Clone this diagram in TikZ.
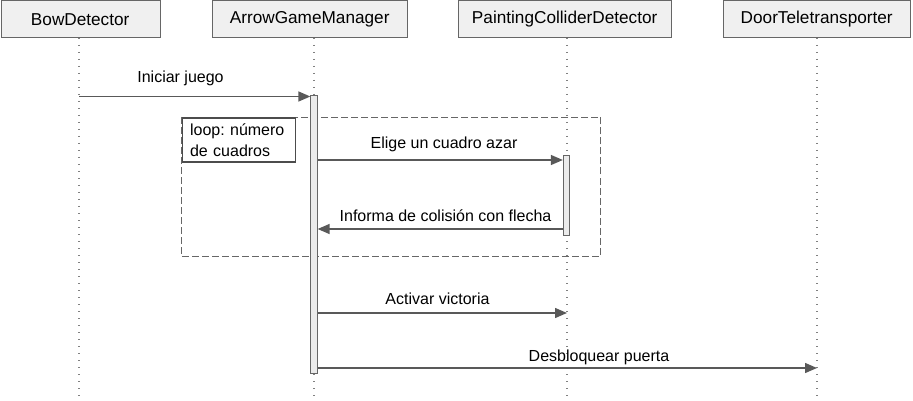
\documentclass[tikz,border=0pt]{standalone}
\usepackage{fontspec}
\setmainfont{Liberation Sans}
\usetikzlibrary{arrows.meta}
\frenchspacing
\tikzset{
	actor/.style={draw=black!60, fill=black!6, minimum height=37pt, inner sep=0pt, anchor=north west, font=\fontsize{17.2}{19}\selectfont},
	lifeline/.style={draw=black!50, line width=1.3pt, dash pattern=on 1.3pt off 5.7pt},
	bar/.style={draw=black!60, fill=black!8, line width=0.8pt, minimum width=6.5pt, inner sep=0pt, anchor=north},
	msg/.style={draw=black!65, line width=1.4pt, -{Triangle[length=12pt,width=10pt]}},
	lbl/.style={font=\fontsize{16}{19}\selectfont, inner sep=0pt, anchor=base},
	frame/.style={draw=black!60, line width=0.7pt, dash pattern=on 7pt off 3pt}
}

\begin{document}
\begin{tikzpicture}[x=1pt, y=-1pt]
		%%%%% START %%%%%
		\useasboundingbox (0,0) rectangle (913,401);
		
		\node[actor, minimum width=159pt] (bow) at (0.5,0.5) {BowDetector};
		\node[actor, minimum width=195pt] (agm) at (212,0.5) {ArrowGameManager};
		\node[actor, minimum width=213pt] (pcd) at (458,0.5) {PaintingColliderDetector};
		\node[actor, minimum width=187pt] (door) at (723,0.5) {DoorTeletransporter};
		
		\coordinate (bowtop) at (79,38);   \coordinate (bowend) at (79,401);
		\coordinate (agmtop) at (314,38);  \coordinate (agmend) at (314,401);
		\coordinate (pcdtop) at (567,38);  \coordinate (pcdend) at (567,401);
		\coordinate (doortop) at (817,38); \coordinate (doorend) at (817,401);
		\draw[lifeline] (bowtop) -- (bowend);
		\draw[lifeline] (agmtop) -- (agmend);
		\draw[lifeline] (pcdtop) -- (pcdend);
		\draw[lifeline] (doortop) -- (doorend);
		
		% loop frame
		\draw[frame] (181,117) rectangle (600.5,256);
		\node[draw=black!70, fill=white, line width=1.2pt, anchor=north west, minimum height=44pt,
			inner xsep=8pt, inner ysep=0pt, text width=97pt, align=left, font=\fontsize{16}{21}\selectfont] (loop) at (181.5,117.5)
			{loop: número\\de cuadros};
		
		% activations
		\node[bar, minimum height=278pt] (agmbar) at (314,95) {};
		\node[bar, minimum height=80pt] (pcdbar) at (566.5,155) {};
		
		% messages
		\coordinate (m1) at (79,96.5);
		\draw[msg] (m1) -- (agmbar.west |- m1);
		\node[lbl] (t1) at (180.5,83) {Iniciar juego};
		
		\coordinate (m2) at (0,160);
		\draw[msg] (agmbar.east |- m2) -- (pcdbar.west |- m2);
		\node[lbl] (t2) at (444,148.5) {Elige un cuadro azar};
		
		\coordinate (m3) at (0,229);
		\draw[msg] (pcdbar.west |- m3) -- (agmbar.east |- m3);
		\node[lbl] (t3) at (445.5,221.5) {Informa de colisión con flecha};
		
		\coordinate (m4) at (0,313);
		\draw[msg] (agmbar.east |- m4) -- (pcdtop |- m4);
		\node[lbl] (t4) at (437.5,304.5) {Activar victoria};
		
		\coordinate (m5) at (0,368);
		\draw[msg] (agmbar.east |- m5) -- (doortop |- m5);
		\node[lbl] (t5) at (599,361.5) {Desbloquear puerta};
		%%%%% END %%%%%
	\end{tikzpicture}
\end{document}
